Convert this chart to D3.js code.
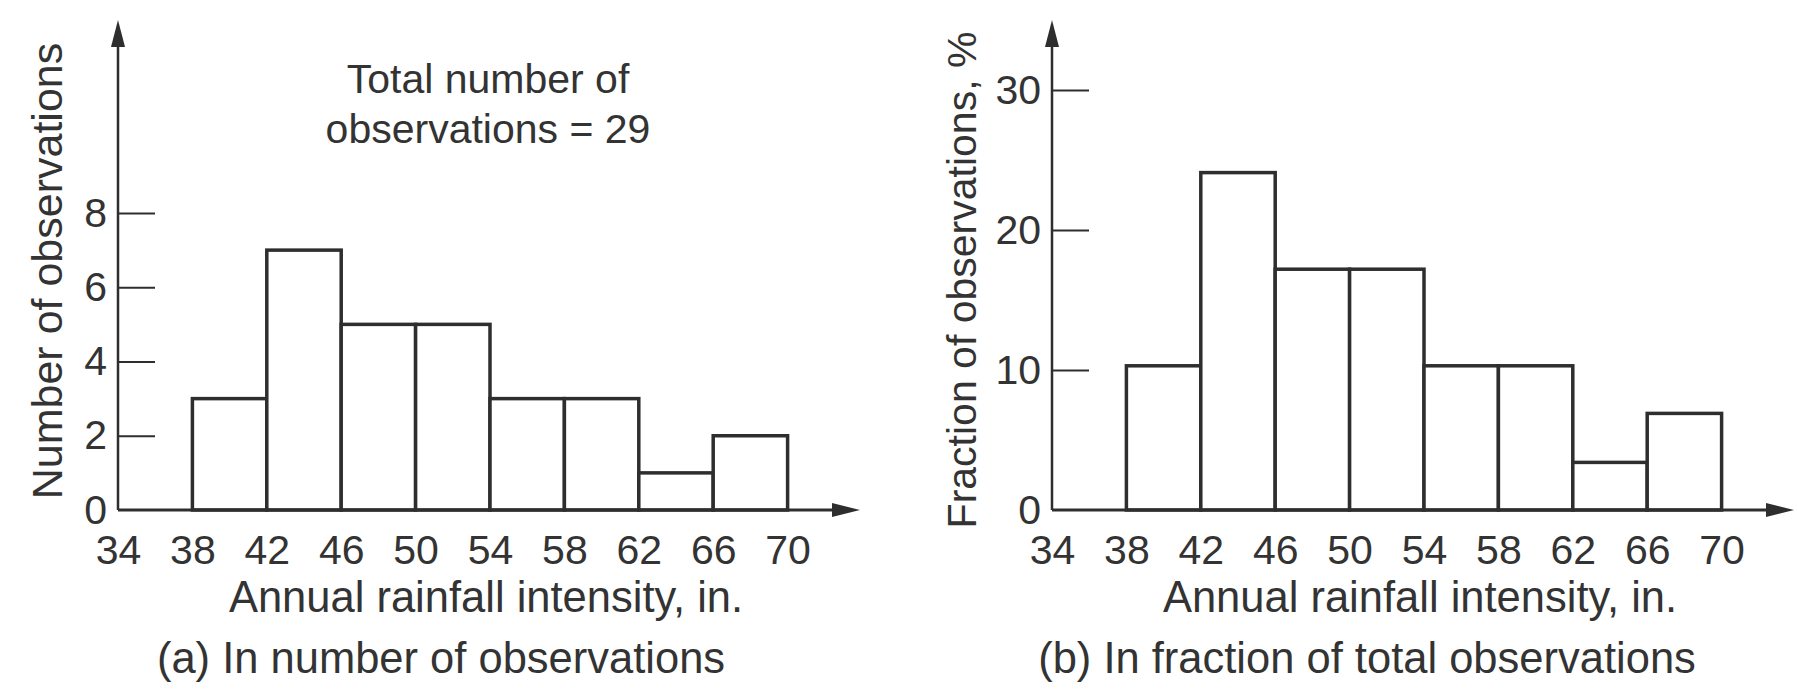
<!DOCTYPE html>
<html>
<head>
<meta charset="utf-8">
<script src="https://cdn.jsdelivr.net/npm/d3@7"></script>
<style>
	html, body { margin: 0; padding: 0; background: #fff; }
	svg text { font-family: "Liberation Sans", Arial, Helvetica, sans-serif; fill: #333; }
</style>
</head>
<body>
<div class="chart__rain"><svg></svg></div>
<script>
(function() {

	// DATA
	var binEdges = [38, 42, 46, 50, 54, 58, 62, 66, 70];
	var counts = [3, 7, 5, 5, 3, 3, 1, 2];
	var percents = [10.3, 24.1, 17.2, 17.2, 10.3, 10.3, 3.4, 6.9];
	var xTicks = [34, 38, 42, 46, 50, 54, 58, 62, 66, 70];
	var countTicks = [0, 2, 4, 6, 8];
	var percentTicks = [0, 10, 20, 30];
	var xTitle = 'Annual rainfall intensity, in.';
	var yTitles = ['Number of observations', 'Fraction of observations, %'];
	var subTitles = ['(a) In number of observations', '(b) In fraction of total observations'];
	var noteLines = ['Total number of', 'observations = 29'];

	// VARS
	var width = 1797;
	var height = 695;
	var ink = '#2e2e2e';
	var chart = d3.select('.chart__rain');
	var svg = chart.select('svg')
		.attr('width', width)
		.attr('height', height);

	var panels = [
		{ left: 118, end: 860, yTitleX: 62, yTitleY: 271, yTitleSize: 43, subX: 441, values: counts, ticks: countTicks, yMax: 8, yTop: 213 },
		{ left: 1052, end: 1794, yTitleX: 976, yTitleY: 280, yTitleSize: 41, subX: 1367, values: percents, ticks: percentTicks, yMax: 30, yTop: 90 }
	];
	var base = 510;
	var arrowTop = 20;

	function setupScales(p) {
		var s = {};
		s.x = d3.scaleLinear()
			.domain([34, 70])
			.range([p.left, p.left + 9 * 74.4]);
		s.y = d3.scaleLinear()
			.domain([0, p.yMax])
			.range([base, p.yTop]);
		return s;
	}

	function drawBars(g, p, s) {
		var data = p.values.map(function(v, i) {
			return { x0: binEdges[i], x1: binEdges[i + 1], v: v };
		});
		g.selectAll('.bar')
			.data(data)
			.enter()
			.append('rect')
			.attr('class', 'bar')
			.attr('x', function(d) { return s.x(d.x0); })
			.attr('width', function(d) { return s.x(d.x1) - s.x(d.x0); })
			.attr('y', function(d) { return s.y(d.v); })
			.attr('height', function(d) { return s.y(0) - s.y(d.v); })
			.style('fill', '#fff')
			.style('stroke', ink)
			.style('stroke-width', 3.5);
	}

	function drawAxes(g, p, s) {
		// x tick labels only, no tick marks
		var xaxis = g.append('g')
			.attr('class', 'axis axis--x')
			.attr('transform', 'translate(0,' + base + ')')
			.call(d3.axisBottom(s.x).tickValues(xTicks).tickSize(0).tickPadding(25));
		xaxis.select('.domain').remove();

		// y ticks point inward, labels outside
		var yaxis = g.append('g')
			.attr('class', 'axis axis--y')
			.attr('transform', 'translate(' + p.left + ',0)')
			.call(d3.axisLeft(s.y).tickValues(p.ticks).tickSizeInner(-37).tickSizeOuter(0).tickPadding(11));
		yaxis.select('.domain').remove();
		yaxis.selectAll('.tick line')
			.style('stroke', ink)
			.style('stroke-width', 2.2)
			.style('display', function(d) { return d === 0 ? 'none' : null; });

		g.selectAll('.axis text')
			.style('font-size', '41px')
			.style('fill', '#333');

		// axis lines with arrows
		g.append('line')
			.attr('x1', p.left).attr('y1', base)
			.attr('x2', p.left).attr('y2', arrowTop + 20)
			.style('stroke', ink).style('stroke-width', 2.5);
		g.append('path')
			.attr('d', 'M' + p.left + ',' + arrowTop + 'L' + (p.left - 7) + ',' + (arrowTop + 27) + 'L' + (p.left + 7) + ',' + (arrowTop + 27) + 'Z')
			.style('fill', ink);
		g.append('line')
			.attr('x1', p.left).attr('y1', base)
			.attr('x2', p.end - 20).attr('y2', base)
			.style('stroke', ink).style('stroke-width', 3);
		g.append('path')
			.attr('d', 'M' + p.end + ',' + base + 'L' + (p.end - 28) + ',' + (base - 7) + 'L' + (p.end - 28) + ',' + (base + 7) + 'Z')
			.style('fill', ink);
	}

	function drawTitles(g, p, i) {
		g.append('text')
			.attr('transform', 'translate(' + p.yTitleX + ',' + p.yTitleY + ') rotate(-90)')
			.attr('text-anchor', 'middle')
			.style('font-size', p.yTitleSize + 'px')
			.text(yTitles[i]);

		g.append('text')
			.attr('x', p.left + 368)
			.attr('y', 612)
			.attr('text-anchor', 'middle')
			.style('font-size', '43.5px')
			.text(xTitle);

		g.append('text')
			.attr('x', p.subX)
			.attr('y', 673)
			.attr('text-anchor', 'middle')
			.style('font-size', '43.5px')
			.text(subTitles[i]);
	}

	function drawNote(g) {
		g.selectAll('.note')
			.data(noteLines)
			.enter()
			.append('text')
			.attr('class', 'note')
			.attr('x', 488)
			.attr('y', function(d, i) { return 93 + i * 50; })
			.attr('text-anchor', 'middle')
			.style('font-size', '41px')
			.text(function(d) { return d; });
	}

	function init() {
		svg.append('rect')
			.attr('width', width)
			.attr('height', height)
			.style('fill', '#fff');

		panels.forEach(function(p, i) {
			var g = svg.append('g').attr('class', 'panel panel-' + i);
			var s = setupScales(p);
			drawBars(g, p, s);
			drawAxes(g, p, s);
			drawTitles(g, p, i);
			if (i === 0) drawNote(g);
		});
	}

	init()
})()
</script>
</body>
</html>
